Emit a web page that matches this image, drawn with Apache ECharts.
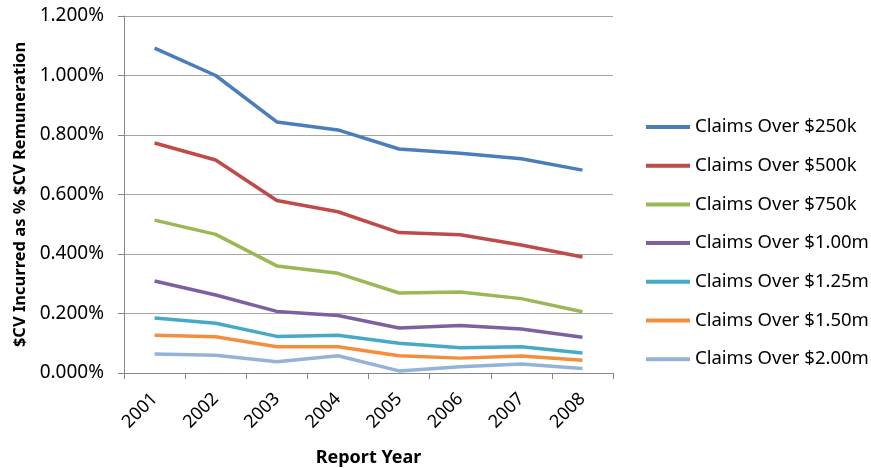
<!DOCTYPE html>
<html>
<head>
<meta charset="utf-8">
<script src="https://cdn.jsdelivr.net/npm/echarts@6/dist/echarts.min.js"></script>
<style>html,body{margin:0;padding:0;background:#fff}#c{width:871px;height:468px}</style>
</head>
<body>
<div id="c"></div>
<script>
const years = ['2001','2002','2003','2004','2005','2006','2007','2008'];
const yTicks = [0, 0.2, 0.4, 0.6, 0.8, 1.0, 1.2];
const seriesNames = ['Claims Over $250k','Claims Over $500k','Claims Over $750k','Claims Over $1.00m','Claims Over $1.25m','Claims Over $1.50m','Claims Over $2.00m'];
const over250k = [1.092, 1.000, 0.844, 0.817, 0.753, 0.739, 0.720, 0.682];
const over500k = [0.773, 0.716, 0.580, 0.542, 0.472, 0.465, 0.430, 0.390];
const over750k = [0.514, 0.466, 0.360, 0.335, 0.269, 0.272, 0.250, 0.206];
const over1_00m = [0.309, 0.262, 0.207, 0.193, 0.151, 0.160, 0.148, 0.120];
const over1_25m = [0.185, 0.167, 0.123, 0.127, 0.100, 0.085, 0.088, 0.067];
const over1_50m = [0.127, 0.122, 0.088, 0.088, 0.058, 0.050, 0.057, 0.043];
const over2_00m = [0.064, 0.060, 0.038, 0.058, 0.007, 0.021, 0.030, 0.015];
const allData = [over250k, over500k, over750k, over1_00m, over1_25m, over1_50m, over2_00m];
const colors = ['#4A7EBB','#BE4B48','#98B954','#7D60A0','#46AAC5','#F38E3E','#95B3D7'];

const font = 'Noto Sans';
const chart = echarts.init(document.getElementById('c'));
chart.setOption({
  animation: false,
  textStyle: {fontFamily: font},
  grid: {left: 124, right: 258, top: 16, bottom: 95, containLabel: false, outerBoundsMode: 'none'},
  legend: {
    orient: 'vertical', left: 641, top: 111,
    icon: 'rect', itemWidth: 44, itemHeight: 4, itemGap: 16.7,
    textStyle: {fontFamily: font, fontSize: 18.5, color: '#000', lineHeight: 22},
    data: seriesNames
  },
  xAxis: {
    type: 'category', data: years, boundaryGap: true,
    name: 'Report Year', nameLocation: 'middle', nameGap: 76,
    nameTextStyle: {fontFamily: font, fontSize: 18, fontWeight: 'bold', color: '#000'},
    axisLine: {lineStyle: {color: '#868686', width: 1}},
    axisTick: {show: true, length: 6, lineStyle: {color: '#868686'}},
    axisLabel: {rotate: 45, fontFamily: font, fontSize: 18, color: '#000', margin: 23}
  },
  yAxis: {
    type: 'value', min: 0, max: 1.2, interval: 0.2,
    name: '$CV Incurred as % $CV Remuneration', nameLocation: 'middle', nameGap: 95,
    nameTextStyle: {fontFamily: font, fontSize: 16.5, fontWeight: 'bold', color: '#000'},
    axisLine: {show: true, lineStyle: {color: '#868686', width: 1}},
    axisTick: {show: true, length: 6, lineStyle: {color: '#868686'}},
    splitLine: {lineStyle: {color: '#a6a6a6', width: 1}},
    axisLabel: {fontFamily: font, fontSize: 19, color: '#000', margin: 20,
      formatter: v => yTicks.some(t => Math.abs(t - v) < 1e-9) ? v.toFixed(3) + '%' : ''}
  },
  series: allData.map((d, i) => ({
    name: seriesNames[i], type: 'line', data: d, showSymbol: false, symbol: 'none',
    lineStyle: {color: colors[i], width: 3.5}, itemStyle: {color: colors[i]}
  }))
});
</script>
</body>
</html>
